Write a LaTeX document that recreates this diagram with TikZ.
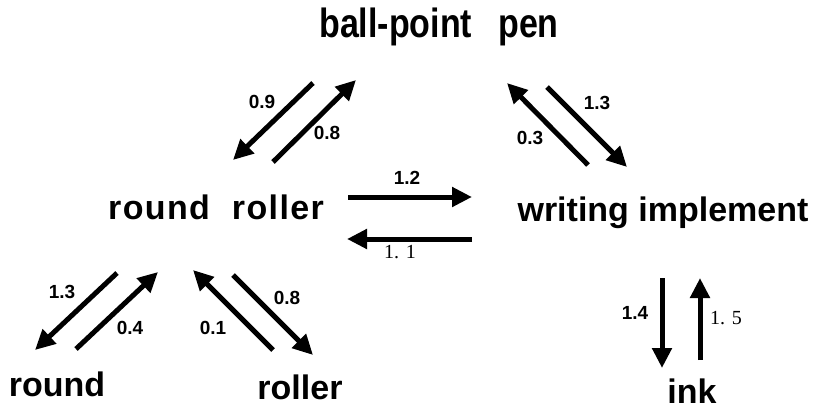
\documentclass[tikz,border=0pt]{standalone}
\usepackage{graphicx}
\usepackage{fontspec}
\setmainfont{Liberation Sans}
\newfontfamily\serifnum{Liberation Serif}
\usetikzlibrary{arrows.meta}
\begin{document}
\begin{tikzpicture}[x=1pt,y=-1pt,
  word/.style={font=\fontsize{34}{40}\selectfont\bfseries, anchor=base, inner sep=0pt},
  wt/.style={font=\fontsize{19}{21}\selectfont\bfseries, inner sep=0pt},
  wts/.style={font=\fontsize{20}{22}\selectfont\serifnum, inner sep=0pt},
  link/.style={line width=5pt, -{Triangle[length=20pt,width=19pt]}}]
\useasboundingbox (0,0) rectangle (819,409);

% words
\node[word] (pen)   at (439,38)  {\scalebox{1}[1.2]{ball-point\hspace{26pt}pen}};
\node[word] (rr)    at (216,219) {\addfontfeature{LetterSpace=4}round\hspace{22pt}roller};
\node[word] (wi)    at (663,221) {writing implement};
\node[word] (round) at (57,396)  {round};
\node[word] (rol)   at (300,399) {roller};
\node[word] (ink)   at (692,403) {ink};

% arrow end points
\coordinate (a1s) at (313,83);  \coordinate (a1e) at (233,160);
\coordinate (a2s) at (273,162); \coordinate (a2e) at (356,80);
\coordinate (b1s) at (588,165); \coordinate (b1e) at (507,83);
\coordinate (b2s) at (547,87);  \coordinate (b2e) at (627,167);
\coordinate (c1s) at (348,197); \coordinate (c1e) at (472,197);
\coordinate (c2s) at (472,239); \coordinate (c2e) at (347,239);
\coordinate (d1s) at (117,273); \coordinate (d1e) at (35,350);
\coordinate (d2s) at (76,349);  \coordinate (d2e) at (158,272);
\coordinate (e1s) at (273,350); \coordinate (e1e) at (193,270);
\coordinate (e2s) at (233,275); \coordinate (e2e) at (313,355);
\coordinate (f1s) at (662,278); \coordinate (f1e) at (662,368);
\coordinate (f2s) at (700,360); \coordinate (f2e) at (700,278);

% arrows
\draw[link] (a1s) -- (a1e);
\draw[link] (a2s) -- (a2e);
\draw[link] (b1s) -- (b1e);
\draw[link] (b2s) -- (b2e);
\draw[link] (c1s) -- (c1e);
\draw[link] (c2s) -- (c2e);
\draw[link] (d1s) -- (d1e);
\draw[link] (d2s) -- (d2e);
\draw[link] (e1s) -- (e1e);
\draw[link] (e2s) -- (e2e);
\draw[link] (f1s) -- (f1e);
\draw[link] (f2s) -- (f2e);

% weights
\node[wt] (l09) at (262,102) {0.9};
\node[wt] (l08a) at (327,133) {0.8};
\node[wt] (l13a) at (597,103) {1.3};
\node[wt] (l03) at (530,138) {0.3};
\node[wt] (l12) at (407,178) {1.2};
\node[wts] (l11) at (400,252) {1. 1};
\node[wt] (l13b) at (62,292) {1.3};
\node[wt] (l04) at (130,328) {0.4};
\node[wt] (l08b) at (287,298) {0.8};
\node[wt] (l01) at (213,328) {0.1};
\node[wt] (l14) at (635,313) {1.4};
\node[wts] (l15) at (726,318) {1. 5};
\end{tikzpicture}
\end{document}
